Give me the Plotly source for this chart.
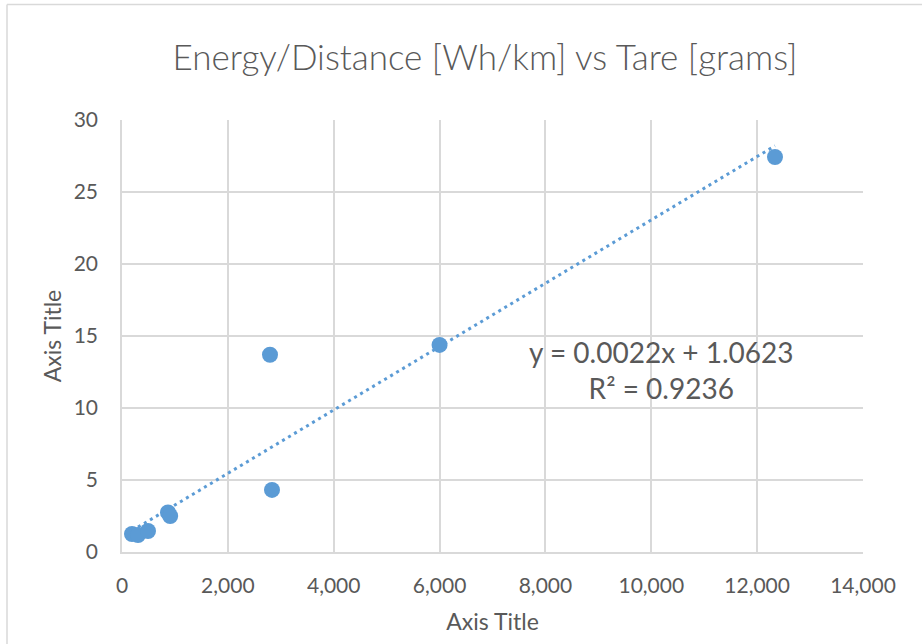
import plotly.graph_objects as go

tare_g = [189, 302, 491, 869, 910, 2796, 2834, 6000, 12337]
energy_wh_km = [1.25, 1.18, 1.46, 2.75, 2.5, 13.7, 4.31, 14.38, 27.43]
slope, intercept = 0.0022, 1.0623
x_ticks = [0, 2000, 4000, 6000, 8000, 10000, 12000, 14000]
y_ticks = [0, 5, 10, 15, 20, 25, 30]

trend_x = [min(tare_g), max(tare_g)]
trend_y = [slope * v + intercept for v in trend_x]

blue = "#5b9bd5"
grey_txt = "#595959"
grid = "#d9d9d9"
font = "Lato"

L, R, T, B = 122, 59, 120, 92
PW, PH = 922 - L - R, 644 - T - B


def px_x(p):
    return (p - L) / PW


def px_y(p):
    return (644 - B - p) / PH


fig = go.Figure()
fig.add_trace(go.Scatter(x=trend_x, y=trend_y, mode="lines",
                         line=dict(color=blue, width=3, dash="3px,4px"), showlegend=False))
fig.add_trace(go.Scatter(x=tare_g, y=energy_wh_km, mode="markers",
                         marker=dict(color=blue, size=16, line=dict(width=0)), showlegend=False))

fig.update_layout(
    width=922, height=644,
    margin=dict(l=L, r=R, t=T, b=B),
    paper_bgcolor="white", plot_bgcolor="white",
    font=dict(family=font, color=grey_txt, size=21),
    title=dict(text="Energy/Distance [Wh/km] vs Tare [grams]", x=px_x(485), xref="paper",
               y=1 - 58 / 644, yref="container", yanchor="middle", xanchor="center",
               font=dict(size=35, family=font, color=grey_txt, weight=300)),
    xaxis=dict(range=[0, 14000], tickvals=x_ticks, tickformat=",d",
               showgrid=True, gridcolor=grid, gridwidth=1.5, zeroline=False,
               showline=True, linecolor=grid, linewidth=1.5, ticks="",
               ticklabelstandoff=14,
               title=dict(text="Axis Title", font=dict(size=23), standoff=18)),
    yaxis=dict(range=[0, 30], tickvals=y_ticks,
               showgrid=True, gridcolor=grid, gridwidth=1.5, zeroline=False,
               showline=True, linecolor=grid, linewidth=1.5, ticks="",
               ticklabelstandoff=18,
               title=dict(text="Axis Title", font=dict(size=23), standoff=6)),
)

fig.add_annotation(xref="x", yref="y", x=10183, y=12.64, showarrow=False,
                   text="y = 0.0022x + 1.0623<br>R² = 0.9236", align="center",
                   font=dict(size=28, family=font, color=grey_txt))

# chart-area frame (left and top edges visible)
fig.add_shape(type="line", xref="paper", yref="paper",
              x0=px_x(7), x1=px_x(7), y0=px_y(644), y1=px_y(4.5),
              line=dict(color=grid, width=1.5), layer="below")
fig.add_shape(type="line", xref="paper", yref="paper",
              x0=px_x(7), x1=px_x(922), y0=px_y(4.5), y1=px_y(4.5),
              line=dict(color=grid, width=1.5), layer="below")

fig.write_html("out.html", config={"displayModeBar": False},
               post_script="document.body.style.margin='0';document.body.style.padding='0';")
